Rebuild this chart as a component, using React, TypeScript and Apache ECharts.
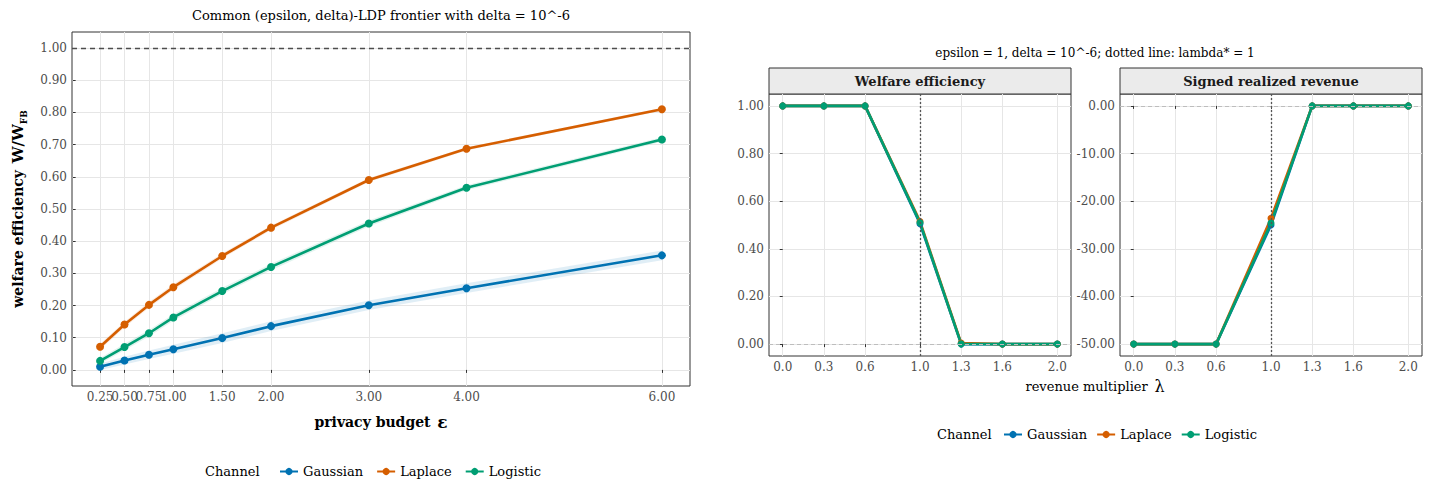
import React, { useEffect, useRef } from "react";
import * as echarts from "echarts";

// ---- Frontier data: welfare efficiency by privacy budget ----
const epsilon = [0.25, 0.5, 0.75, 1.0, 1.5, 2.0, 3.0, 4.0, 6.0];
const gaussianEff = [0.01, 0.029, 0.047, 0.064, 0.099, 0.136, 0.201, 0.254, 0.356];
const laplaceEff = [0.072, 0.141, 0.202, 0.257, 0.354, 0.442, 0.59, 0.687, 0.81];
const logisticEff = [0.028, 0.071, 0.114, 0.163, 0.245, 0.32, 0.455, 0.566, 0.716];

// uncertainty bands around each frontier
const gaussianLo = [0.0, 0.017, 0.034, 0.05, 0.084, 0.121, 0.186, 0.239, 0.341];
const gaussianHi = [0.02, 0.041, 0.06, 0.078, 0.114, 0.151, 0.216, 0.269, 0.371];
const laplaceLo = [0.063, 0.132, 0.193, 0.248, 0.346, 0.435, 0.584, 0.682, 0.805];
const laplaceHi = [0.081, 0.15, 0.211, 0.266, 0.362, 0.449, 0.596, 0.692, 0.815];
const logisticLo = [0.019, 0.061, 0.104, 0.153, 0.235, 0.31, 0.446, 0.558, 0.709];
const logisticHi = [0.037, 0.081, 0.124, 0.173, 0.255, 0.33, 0.464, 0.574, 0.723];

// ---- Revenue multiplier sweep (epsilon = 1) ----
const lambdaGrid = [0.0, 0.3, 0.6, 1.0, 1.3, 1.6, 2.0];
const gaussianWelfare = [1, 1, 1, 0.505, 0.0, 0.0, 0.0];
const laplaceWelfare = [1, 1, 1, 0.515, 0.004, 0.0, 0.0];
const logisticWelfare = [1, 1, 1, 0.51, 0.001, 0.0, 0.0];
const gaussianRevenue = [-50, -50, -50, -25.0, 0, 0, 0];
const laplaceRevenue = [-50, -50, -50, -23.6, 0, 0, 0];
const logisticRevenue = [-50, -50, -50, -24.6, 0, 0, 0];

// ---- Axis breaks ----
const effTicks = [0, 0.1, 0.2, 0.3, 0.4, 0.5, 0.6, 0.7, 0.8, 0.9, 1.0];
const welfareTicks = [0, 0.2, 0.4, 0.6, 0.8, 1.0];
const revenueTicks = [-50, -40, -30, -20, -10, 0];
const lambdaTicks = [0.0, 0.3, 0.6, 1.0, 1.3, 1.6, 2.0];
// the crowded low-epsilon breaks are labelled on their own overlay axes
const epsLabelsMain = [0.25, 1.0, 1.5, 2.0, 3.0, 4.0, 6.0];
const epsLabelsExtra = [[0.5], [0.75]];

const channels = ["Gaussian", "Laplace", "Logistic"];
const COLORS: Record<string, string> = {
  Gaussian: "#0072B2",
  Laplace: "#D55E00",
  Logistic: "#009E73",
};

const FONT = "DejaVu Serif";
const GRID_COLOR = "#e6e6e6";
const BORDER = "#333333";
const LABEL_COLOR = "#4d4d4d";

const pairs = (xs: number[], ys: number[]) => xs.map((x, i) => [x, ys[i]]);

function bandSeries(name: string, lo: number[], hi: number[]) {
  return {
    type: "custom",
    name: name + " band",
    xAxisIndex: 0,
    yAxisIndex: 0,
    z: 1,
    silent: true,
    data: epsilon.map((e, i) => [e, lo[i], hi[i]]),
    encode: { x: 0, y: [1, 2] },
    renderItem: (params: any, api: any) => {
      if (params.dataIndex !== 0) return null;
      const pts: number[][] = [];
      for (let i = 0; i < epsilon.length; i++) pts.push(api.coord([epsilon[i], hi[i]]));
      for (let i = epsilon.length - 1; i >= 0; i--) pts.push(api.coord([epsilon[i], lo[i]]));
      return {
        type: "polygon",
        shape: { points: pts },
        style: { fill: COLORS[name], opacity: 0.12 },
      };
    },
  };
}

function lineSeries(name: string, xs: number[], ys: number[], gi: number, width: number, size: number) {
  return {
    type: "line",
    name,
    xAxisIndex: gi,
    yAxisIndex: gi,
    z: 3,
    data: pairs(xs, ys),
    symbol: "circle",
    symbolSize: size,
    showSymbol: true,
    lineStyle: { color: COLORS[name], width },
    itemStyle: { color: COLORS[name] },
  };
}

function valueAxis(
  gi: number,
  min: number,
  max: number,
  ticks: number[],
  labels: number[],
  digits: number,
  extra: any = {}
) {
  return {
    type: "value",
    gridIndex: gi,
    min,
    max,
    axisLine: { show: false },
    axisTick: { show: true, length: 3, customValues: ticks, lineStyle: { color: BORDER } },
    axisLabel: {
      customValues: labels,
      formatter: (v: number) => v.toFixed(digits),
      color: LABEL_COLOR,
      fontFamily: FONT,
      fontSize: 12,
      margin: 5,
      hideOverlap: false,
      showMinLabel: true,
      showMaxLabel: true,
    },
    splitLine: { show: true, lineStyle: { color: GRID_COLOR, width: 1 } },
    ...extra,
  };
}

function labelOnlyXAxis(values: number[]) {
  return {
    type: "value",
    gridIndex: 0,
    position: "bottom",
    offset: 0,
    min: -0.0375,
    max: 6.2875,
    axisLine: { show: false },
    axisTick: { show: false },
    splitLine: { show: false },
    axisLabel: {
      customValues: values,
      formatter: (v: number) => v.toFixed(2),
      color: LABEL_COLOR,
      fontFamily: FONT,
      fontSize: 12,
      margin: 5,
      showMinLabel: true,
      showMaxLabel: true,
    },
  };
}

export default function App() {
  const ref = useRef<HTMLDivElement>(null);

  useEffect(() => {
    if (!ref.current) return;
    const chart = echarts.init(ref.current, null, { renderer: "svg" });

    const grids = [
      { left: 72, top: 32, width: 618, height: 354 },
      { left: 769, top: 94, width: 302, height: 262 },
      { left: 1120, top: 94, width: 302, height: 262 },
    ].map((g) => ({ ...g, show: true, borderColor: BORDER, borderWidth: 1, backgroundColor: "transparent" }));

    const option: any = {
      animation: false,
      backgroundColor: "#ffffff",
      grid: grids,
      xAxis: [
        valueAxis(0, -0.0375, 6.2875, epsilon, epsLabelsMain, 2, {
          position: "bottom",
          name: "{t|privacy budget}  {e|ε}",
          nameLocation: "middle",
          nameGap: 27,
          nameTextStyle: {
            rich: {
              t: { fontFamily: FONT, fontWeight: "bold", fontSize: 14, color: "#000" },
              e: { fontFamily: FONT, fontWeight: "bold", fontSize: 17, color: "#000" },
            },
          },
        }),
        valueAxis(1, -0.1, 2.1, lambdaTicks, lambdaTicks, 1),
        valueAxis(2, -0.1, 2.1, lambdaTicks, lambdaTicks, 1),
        ...epsLabelsExtra.map((v) => labelOnlyXAxis(v)),
      ],
      yAxis: [
        valueAxis(0, -0.05, 1.05, effTicks, effTicks, 2, {
          name: "{t|welfare efficiency}  {w|W/W}{s|FB}",
          nameLocation: "middle",
          nameRotate: 90,
          nameGap: 44,
          nameTextStyle: {
            rich: {
              t: { fontFamily: FONT, fontWeight: "bold", fontSize: 14, color: "#000", lineHeight: 20 },
              w: { fontFamily: FONT, fontWeight: "bold", fontSize: 15, color: "#000", lineHeight: 20 },
              s: { fontFamily: FONT, fontWeight: "bold", fontSize: 9, color: "#000", verticalAlign: "bottom" },
            },
          },
        }),
        valueAxis(1, -0.05, 1.05, welfareTicks, welfareTicks, 2),
        valueAxis(2, -52.5, 2.5, revenueTicks, revenueTicks, 2),
      ],
      legend: [
        {
          data: channels,
          left: 274,
          top: 460,
          orient: "horizontal",
          itemWidth: 18,
          itemHeight: 9,
          itemGap: 13,
          textStyle: { fontFamily: FONT, fontSize: 13, color: "#000" },
        },
        {
          data: channels,
          left: 998,
          top: 423,
          orient: "horizontal",
          itemWidth: 18,
          itemHeight: 9,
          itemGap: 9,
          textStyle: { fontFamily: FONT, fontSize: 13, color: "#000" },
        },
      ],
      graphic: [
        {
          type: "text",
          x: 381,
          y: 15,
          style: {
            text: "Common (epsilon, delta)-LDP frontier with delta = 10^-6",
            fontFamily: FONT,
            fontSize: 13,
            fill: "#000",
            align: "center",
            verticalAlign: "middle",
          },
        },
        {
          type: "text",
          x: 1095,
          y: 53,
          style: {
            text: "epsilon = 1, delta = 10^-6; dotted line: lambda* = 1",
            fontFamily: FONT,
            fontSize: 12,
            fill: "#000",
            align: "center",
            verticalAlign: "middle",
          },
        },
        {
          type: "rect",
          shape: { x: 769, y: 68, width: 302, height: 26 },
          style: { fill: "#ebebeb", stroke: BORDER, lineWidth: 1 },
        },
        {
          type: "text",
          x: 920,
          y: 81,
          style: {
            text: "Welfare efficiency",
            fontFamily: FONT,
            fontWeight: "bold",
            fontSize: 13,
            fill: "#1a1a1a",
            align: "center",
            verticalAlign: "middle",
          },
        },
        {
          type: "rect",
          shape: { x: 1120, y: 68, width: 302, height: 26 },
          style: { fill: "#ebebeb", stroke: BORDER, lineWidth: 1 },
        },
        {
          type: "text",
          x: 1271,
          y: 81,
          style: {
            text: "Signed realized revenue",
            fontFamily: FONT,
            fontWeight: "bold",
            fontSize: 13,
            fill: "#1a1a1a",
            align: "center",
            verticalAlign: "middle",
          },
        },
        {
          type: "text",
          x: 1095,
          y: 386,
          style: {
            text: "{t|revenue multiplier}  {l|λ}",
            rich: {
              t: { fontFamily: FONT, fontSize: 13, fill: "#000" },
              l: { fontFamily: FONT, fontSize: 16, fill: "#000" },
            },
            align: "center",
            verticalAlign: "middle",
          },
        },
        {
          type: "text",
          x: 205,
          y: 471,
          style: {
            text: "Channel",
            fontFamily: FONT,
            fontSize: 13,
            fill: "#000",
            verticalAlign: "middle",
          },
        },
        {
          type: "text",
          x: 937,
          y: 434,
          style: {
            text: "Channel",
            fontFamily: FONT,
            fontSize: 13,
            fill: "#000",
            verticalAlign: "middle",
          },
        },
      ],
      series: [
        // reference line at full efficiency
        {
          type: "line",
          name: "ref0",
          xAxisIndex: 0,
          yAxisIndex: 0,
          data: [],
          z: 2,
          markLine: {
            silent: true,
            symbol: "none",
            label: { show: false },
            lineStyle: { color: "#4d4d4d", type: [5, 4], width: 1.3 },
            data: [{ yAxis: 1 }],
          },
        },
        bandSeries("Gaussian", gaussianLo, gaussianHi),
        bandSeries("Laplace", laplaceLo, laplaceHi),
        bandSeries("Logistic", logisticLo, logisticHi),
        lineSeries("Gaussian", epsilon, gaussianEff, 0, 2.6, 8),
        lineSeries("Laplace", epsilon, laplaceEff, 0, 2.6, 8),
        lineSeries("Logistic", epsilon, logisticEff, 0, 2.6, 8),
        // zero line and lambda* marker in the facets
        ...[1, 2].map((gi) => ({
          type: "line",
          name: "ref" + gi,
          xAxisIndex: gi,
          yAxisIndex: gi,
          data: [],
          z: 2,
          markLine: {
            silent: true,
            symbol: "none",
            label: { show: false },
            data: [
              { yAxis: 0, lineStyle: { color: "#bdbdbd", type: [4, 3], width: 1 } },
              { xAxis: 1, lineStyle: { color: "#555555", type: [2, 2], width: 1.3 } },
            ],
          },
        })),
        lineSeries("Gaussian", lambdaGrid, gaussianWelfare, 1, 2.6, 7),
        lineSeries("Laplace", lambdaGrid, laplaceWelfare, 1, 2.6, 7),
        lineSeries("Logistic", lambdaGrid, logisticWelfare, 1, 2.6, 7),
        lineSeries("Gaussian", lambdaGrid, gaussianRevenue, 2, 2.6, 7),
        lineSeries("Laplace", lambdaGrid, laplaceRevenue, 2, 2.6, 7),
        lineSeries("Logistic", lambdaGrid, logisticRevenue, 2, 2.6, 7),
      ],
    };

    chart.setOption(option);
    return () => chart.dispose();
  }, []);

  return (
    <div
      ref={ref}
      style={{ position: "fixed", left: 0, top: 0, width: 1433, height: 499, background: "#fff" }}
    />
  );
}
